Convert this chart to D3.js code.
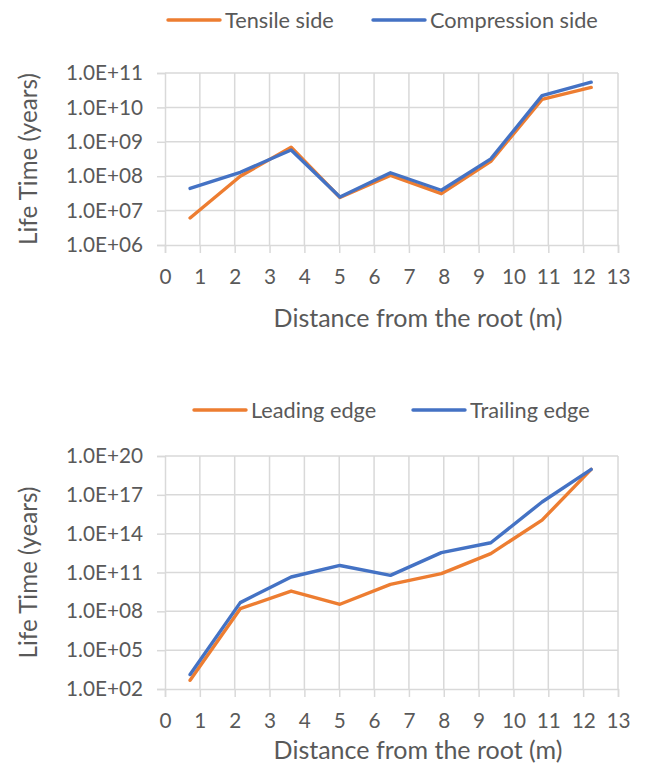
<!DOCTYPE html>
<html><head><meta charset="utf-8">
<script src="https://cdn.jsdelivr.net/npm/d3@7"></script>
<style>body{margin:0;background:#fff}text{font-family:Lato,"Open Sans",sans-serif;fill:#595959}</style>
</head><body><svg id="c" width="645" height="765"></svg>
<script>
const distance = [0.72, 2.16, 3.62, 5.02, 6.47, 7.93, 9.35, 10.82, 12.23];
const tensileSide = [6.1e6, 1.0e8, 7.0e8, 2.4e7, 1.05e8, 3.1e7, 2.7e8, 1.7e10, 3.8e10];
const compressionSide = [4.4e7, 1.3e8, 5.8e8, 2.5e7, 1.26e8, 3.9e7, 3.2e8, 2.2e10, 5.4e10];
const leadingEdge = [4.7e2, 1.6e8, 3.7e9, 3.5e8, 1.2e10, 8.1e10, 2.9e12, 1.1e15, 9.3e18];
const trailingEdge = [1.3e3, 4.7e8, 4.5e10, 3.5e11, 6.0e10, 3.4e12, 2.0e13, 2.8e16, 9.3e18];
const xTicks = [0,1,2,3,4,5,6,7,8,9,10,11,12,13];
const topYTicks = [1e6, 1e7, 1e8, 1e9, 1e10, 1e11];
const bottomYTicks = [1e2, 1e5, 1e8, 1e11, 1e14, 1e17, 1e20];
const topLegend = ["Tensile side", "Compression side"];
const bottomLegend = ["Leading edge", "Trailing edge"];
const xTitle = "Distance from the root (m)";
const yTitle = "Life Time (years)";
const colors = ["#ED7D31", "#4472C4"];

const svg = d3.select("#c");
function fmt(v){
  const e = Math.round(Math.log10(v));
  return "1.0E+" + (e < 10 ? "0" + e : e);
}
// font sizes fitted to the reference text widths
function fitSize(str, target){
  const t = svg.append("text").attr("font-size",20).text(str);
  const w = t.node().getComputedTextLength();
  t.remove();
  return 20 * target / w;
}
const tickSize = fitSize("1.0E+11", 77);
const titleSize = fitSize(xTitle, 289);
const yTitleSize = fitSize(yTitle, 172);
const legendSize = fitSize("Compression side", 168);

function chart(o){
  const g = svg.append("g");
  const x = d3.scaleLinear().domain([0,13]).range([165,618]);
  const y = d3.scaleLog().domain(o.yDomain).range([o.bottom,o.top]);
  g.append("g").selectAll("line").data(xTicks.slice(1)).join("line")
    .attr("x1",d=>x(d)).attr("x2",d=>x(d)).attr("y1",o.top).attr("y2",o.bottom)
    .attr("stroke","#d9d9d9").attr("stroke-width",1.5);
  g.append("g").selectAll("line").data(o.yTicks.slice(1)).join("line")
    .attr("x1",x(0)).attr("x2",x(13)).attr("y1",d=>y(d)).attr("y2",d=>y(d))
    .attr("stroke","#d9d9d9").attr("stroke-width",1.5);
  const xa = g.append("g").attr("transform",`translate(0,${o.bottom})`)
    .call(d3.axisBottom(x).tickValues(xTicks).tickSize(8).tickPadding(10));
  xa.selectAll("text").attr("y",32).attr("dy","0.35em");
  const ya = g.append("g").attr("transform",`translate(${x(0)},0)`)
    .call(d3.axisLeft(y).tickValues(o.yTicks).tickFormat(fmt).tickSize(8).tickPadding(14));
  [xa,ya].forEach(a=>{
    a.select(".domain").attr("stroke","#d9d9d9").attr("stroke-width",1.5);
    a.selectAll(".tick line").attr("stroke","#d9d9d9").attr("stroke-width",1.5);
    a.selectAll("text").attr("font-size",tickSize).attr("fill","#595959").attr("font-family","Lato");
  });
  const line = d3.line().x((d,i)=>x(distance[i])).y(d=>y(d));
  o.series.forEach((s,i)=>{
    g.append("path").datum(s).attr("d",line).attr("fill","none")
      .attr("stroke",colors[i]).attr("stroke-width",3.4).attr("stroke-linecap","round").attr("stroke-linejoin","round");
  });
  o.legend.forEach((t,i)=>{
    const lx = o.legendX[i];
    g.append("line").attr("x1",lx).attr("x2",lx+52).attr("y1",o.legendY).attr("y2",o.legendY)
      .attr("stroke",colors[i]).attr("stroke-width",3.4).attr("stroke-linecap","round");
    g.append("text").attr("x",lx+57).attr("y",o.legendY).attr("dy","0.35em")
      .attr("font-size",legendSize).text(t);
  });
  g.append("text").attr("x",418).attr("y",o.xTitleY).attr("text-anchor","middle")
    .attr("dy","0.35em").attr("font-size",titleSize).text(xTitle);
  g.append("text").attr("transform",`translate(29,${(o.top+o.bottom)/2}) rotate(-90)`)
    .attr("text-anchor","middle").attr("dy","0.35em").attr("font-size",yTitleSize).text(yTitle);
}
chart({top:73,bottom:245,yDomain:[1e6,1e11],yTicks:topYTicks,series:[tensileSide,compressionSide],
  legend:topLegend,legendX:[168,373],legendY:20,xTitleY:318});
chart({top:456,bottom:689,yDomain:[1e2,1e20],yTicks:bottomYTicks,series:[leadingEdge,trailingEdge],
  legend:bottomLegend,legendX:[194,413],legendY:410,xTitleY:750});
</script></body></html>
